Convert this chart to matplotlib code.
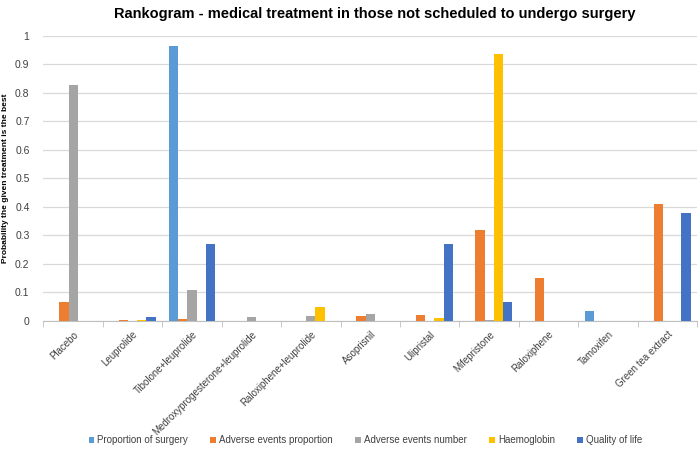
import matplotlib
matplotlib.use('Agg')
import matplotlib.pyplot as plt
import numpy as np

treatments = ['Placebo', 'Leuprolide', 'Tibolone+leuprolide', 'Medroxyprogesterone+leuprolide',
              'Raloxiphene+leuprolide', 'Asoprisnil', 'Ulipristal', 'Mifepristone',
              'Raloxiphene', 'Tamoxifen', 'Green tea extract']

series_names = ['Proportion of surgery', 'Adverse events proportion', 'Adverse events number',
                'Haemoglobin', 'Quality of life']

surgery = [0.001, 0, 0.965, 0, 0, 0, 0, 0, 0, 0.035, 0]
ae_proportion = [0.065, 0.002, 0.008, 0, 0, 0.018, 0.021, 0.32, 0.152, 0, 0.41]
ae_number = [0.828, 0, 0.107, 0.015, 0.018, 0.025, 0, 0.003, 0, 0, 0]
haemoglobin = [0, 0.002, 0, 0, 0.049, 0, 0.011, 0.938, 0, 0, 0]
quality_of_life = [0, 0.013, 0.271, 0, 0, 0, 0.271, 0.066, 0, 0, 0.378]

colors = ['#5B9BD5', '#ED7D31', '#A5A5A5', '#FFC000', '#4472C4']

plt.rcParams['font.family'] = ['Liberation Sans', 'DejaVu Sans']

fig = plt.figure(figsize=(7, 4.54), dpi=100)
ax = fig.add_axes([0.062, 0.293, 0.934, 0.628])

x = np.arange(len(treatments))
width = 0.155
all_series = [surgery, ae_proportion, ae_number, haemoglobin, quality_of_life]
for i, (vals, name) in enumerate(zip(all_series, series_names)):
    ax.bar(x + (i - 2) * width, vals, width, color=colors[i], label=name, zorder=3)

ax.set_xlim(-0.5, len(treatments) - 0.5)
ax.set_ylim(0, 1)
ax.set_yticks(np.arange(0, 1.01, 0.1))
ax.set_yticklabels(['0', '0.1', '0.2', '0.3', '0.4', '0.5', '0.6', '0.7', '0.8', '0.9', '1'])
ax.grid(axis='y', color='#D9D9D9', linewidth=0.9, zorder=0)

ax.set_xticks(x)
ax.set_xticklabels(treatments, rotation=45, ha='right', rotation_mode='anchor', fontsize=7, color='#404040')
ax.tick_params(axis='x', length=0, pad=6)
ax.set_xticks(np.arange(-0.5, len(treatments), 1), minor=True)
ax.tick_params(axis='x', which='minor', length=4, color='#BFBFBF')
ax.tick_params(axis='y', length=0, labelsize=7.5, labelcolor='#404040', pad=10)

for s in ['top', 'right', 'left']:
    ax.spines[s].set_visible(False)
ax.spines['bottom'].set_color('#BFBFBF')

ax.set_ylabel('Probability the given treatment is the best', fontsize=6, fontweight='bold', color='#000000')

fig.suptitle('Rankogram - medical treatment in those not scheduled to undergo surgery',
             fontsize=10.5, fontweight='bold', x=0.535, y=0.985)

fig.legend(loc='lower center', bbox_to_anchor=(0.522, 0.0), ncol=5, frameon=False,
           fontsize=7, handlelength=0.6, handleheight=0.6, columnspacing=2.3, handletextpad=0.3,
           labelcolor='#404040')

plt.savefig('out.png', dpi=100)
